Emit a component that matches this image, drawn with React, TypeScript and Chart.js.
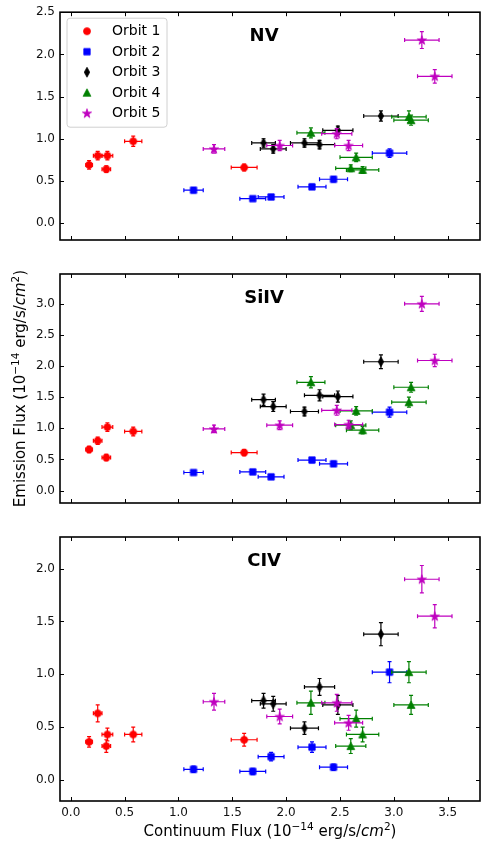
import React, { useEffect, useRef } from "react";
import { Chart, registerables } from "chart.js";
Chart.register(...registerables);

const FONT = "'DejaVu Sans', 'Liberation Sans', sans-serif";

// ---------- data ----------
const ORBIT_LABELS = ["Orbit 1", "Orbit 2", "Orbit 3", "Orbit 4", "Orbit 5"];
const ORBIT_COLORS = ["#ff0000", "#0000ff", "#000000", "#008000", "#bf00bf"];
const ORBIT_MARKERS = ["circle", "square", "thin_diamond", "triangle", "star"];

const X_TICKS = [0, 0.5, 1, 1.5, 2, 2.5, 3, 3.5];
const NV_TICKS = [0, 0.5, 1, 1.5, 2, 2.5];
const SIIV_TICKS = [0, 0.5, 1, 1.5, 2, 2.5, 3];
const CIV_TICKS = [0, 0.5, 1, 1.5, 2];
const PANEL_TITLES = ["NV", "SiIV", "CIV"];

// Continuum flux (x) and its error, per orbit
const CONT_ORBIT1 = [0.17, 0.25, 0.34, 0.33, 0.58, 1.61];
const CONT_ORBIT2 = [1.14, 1.69, 1.86, 2.24, 2.44, 2.96];
const CONT_ORBIT3 = [1.79, 1.88, 2.17, 2.31, 2.48, 2.88];
const CONT_ORBIT4 = [2.23, 2.65, 2.6, 2.71, 3.14, 3.16];
const CONT_ORBIT5 = [1.33, 1.94, 2.47, 2.58, 3.26, 3.38];
const CONT_ERR_ORBIT1 = [0.03, 0.04, 0.05, 0.04, 0.08, 0.12];
const CONT_ERR_ORBIT2 = [0.09, 0.12, 0.12, 0.13, 0.13, 0.16];
const CONT_ERR_ORBIT3 = [0.11, 0.12, 0.13, 0.14, 0.14, 0.16];
const CONT_ERR_ORBIT4 = [0.13, 0.15, 0.14, 0.15, 0.16, 0.16];
const CONT_ERR_ORBIT5 = [0.1, 0.12, 0.14, 0.13, 0.16, 0.16];

// NV emission flux
const NV_ORBIT1 = [0.69, 0.8, 0.8, 0.64, 0.97, 0.66];
const NV_ORBIT2 = [0.39, 0.29, 0.31, 0.43, 0.52, 0.83];
const NV_ORBIT3 = [0.95, 0.88, 0.95, 0.93, 1.1, 1.27];
const NV_ORBIT4 = [1.07, 0.78, 0.65, 0.63, 1.26, 1.22];
const NV_ORBIT5 = [0.88, 0.92, 1.06, 0.92, 2.17, 1.74];
const NV_ERR_ORBIT1 = [0.05, 0.05, 0.05, 0.04, 0.06, 0.04];
const NV_ERR_ORBIT2 = [0.03, 0.02, 0.02, 0.03, 0.03, 0.05];
const NV_ERR_ORBIT3 = [0.05, 0.05, 0.05, 0.05, 0.05, 0.06];
const NV_ERR_ORBIT4 = [0.06, 0.05, 0.04, 0.04, 0.07, 0.06];
const NV_ERR_ORBIT5 = [0.05, 0.06, 0.06, 0.06, 0.1, 0.08];

// SiIV emission flux
const SIIV_ORBIT1 = [0.66, 0.8, 1.02, 0.53, 0.95, 0.61];
const SIIV_ORBIT2 = [0.29, 0.3, 0.22, 0.49, 0.43, 1.26];
const SIIV_ORBIT3 = [1.46, 1.35, 1.27, 1.53, 1.51, 2.07];
const SIIV_ORBIT4 = [1.74, 1.28, 1.05, 0.97, 1.42, 1.66];
const SIIV_ORBIT5 = [0.99, 1.05, 1.29, 1.06, 3.0, 2.09];
const SIIV_ERR_ORBIT1 = [0.05, 0.06, 0.07, 0.05, 0.07, 0.05];
const SIIV_ERR_ORBIT2 = [0.03, 0.03, 0.03, 0.04, 0.04, 0.08];
const SIIV_ERR_ORBIT3 = [0.09, 0.08, 0.07, 0.09, 0.09, 0.11];
const SIIV_ERR_ORBIT4 = [0.09, 0.07, 0.07, 0.06, 0.08, 0.08];
const SIIV_ERR_ORBIT5 = [0.06, 0.07, 0.08, 0.07, 0.12, 0.1];

// CIV emission flux
const CIV_ORBIT1 = [0.36, 0.63, 0.43, 0.32, 0.43, 0.38];
const CIV_ORBIT2 = [0.1, 0.08, 0.22, 0.31, 0.12, 1.02];
const CIV_ORBIT3 = [0.75, 0.72, 0.49, 0.88, 0.71, 1.38];
const CIV_ORBIT4 = [0.73, 0.58, 0.32, 0.43, 1.02, 0.71];
const CIV_ORBIT5 = [0.74, 0.6, 0.73, 0.54, 1.9, 1.55];
const CIV_ERR_ORBIT1 = [0.05, 0.08, 0.06, 0.06, 0.07, 0.06];
const CIV_ERR_ORBIT2 = [0.03, 0.03, 0.04, 0.05, 0.03, 0.1];
const CIV_ERR_ORBIT3 = [0.07, 0.07, 0.06, 0.08, 0.09, 0.11];
const CIV_ERR_ORBIT4 = [0.11, 0.08, 0.07, 0.07, 0.1, 0.09];
const CIV_ERR_ORBIT5 = [0.08, 0.07, 0.08, 0.07, 0.13, 0.11];

// axis ranges
const X_MIN = -0.1;
const X_MAX = 3.8;
const Y_MIN = [-0.2, -0.2, -0.2];
const Y_MAX = [2.5, 3.48, 2.3];

type Run = { t: string; italic?: boolean; sup?: boolean };
const X_LABEL: Run[] = [
  { t: "Continuum Flux (10" },
  { t: "\u221214", sup: true },
  { t: " erg/s/" },
  { t: "cm", italic: true },
  { t: "2", sup: true },
  { t: ")" },
];
const Y_LABEL: Run[] = [
  { t: "Emission Flux (10" },
  { t: "\u221214", sup: true },
  { t: " erg/s/" },
  { t: "cm", italic: true },
  { t: "2", sup: true },
  { t: ")" },
];

const CONT = [CONT_ORBIT1, CONT_ORBIT2, CONT_ORBIT3, CONT_ORBIT4, CONT_ORBIT5];
const CONT_ERR = [CONT_ERR_ORBIT1, CONT_ERR_ORBIT2, CONT_ERR_ORBIT3, CONT_ERR_ORBIT4, CONT_ERR_ORBIT5];
const PANEL_TICKS = [NV_TICKS, SIIV_TICKS, CIV_TICKS];
const PANEL_VALUES = [
  [NV_ORBIT1, NV_ORBIT2, NV_ORBIT3, NV_ORBIT4, NV_ORBIT5],
  [SIIV_ORBIT1, SIIV_ORBIT2, SIIV_ORBIT3, SIIV_ORBIT4, SIIV_ORBIT5],
  [CIV_ORBIT1, CIV_ORBIT2, CIV_ORBIT3, CIV_ORBIT4, CIV_ORBIT5],
];
const PANEL_ERRS = [
  [NV_ERR_ORBIT1, NV_ERR_ORBIT2, NV_ERR_ORBIT3, NV_ERR_ORBIT4, NV_ERR_ORBIT5],
  [SIIV_ERR_ORBIT1, SIIV_ERR_ORBIT2, SIIV_ERR_ORBIT3, SIIV_ERR_ORBIT4, SIIV_ERR_ORBIT5],
  [CIV_ERR_ORBIT1, CIV_ERR_ORBIT2, CIV_ERR_ORBIT3, CIV_ERR_ORBIT4, CIV_ERR_ORBIT5],
];

// ---------- layout (page pixels) ----------
const W = 485;
const H = 842;
const PANEL_TOP = [11, 274, 537];
const PANEL_BOTTOM = [274, 537, 801];
const AXIS_LEFT_W = 60;
const X_AXIS_H = 34;

// ---------- markers ----------
function makeMarker(kind: string, color: string): HTMLCanvasElement {
  const c = document.createElement("canvas");
  c.width = 16;
  c.height = 16;
  const ctx = c.getContext("2d")!;
  ctx.translate(8, 8);
  ctx.fillStyle = color;
  ctx.strokeStyle = color;
  ctx.lineWidth = 0.8;
  ctx.beginPath();
  if (kind === "circle") {
    ctx.arc(0, 0, 3.5, 0, Math.PI * 2);
  } else if (kind === "square") {
    ctx.rect(-3.2, -3.2, 6.4, 6.4);
  } else if (kind === "thin_diamond") {
    ctx.moveTo(0, -4.9);
    ctx.lineTo(2.7, 0);
    ctx.lineTo(0, 4.9);
    ctx.lineTo(-2.7, 0);
    ctx.closePath();
  } else if (kind === "triangle") {
    ctx.moveTo(0, -3.9);
    ctx.lineTo(3.9, 3.5);
    ctx.lineTo(-3.9, 3.5);
    ctx.closePath();
  } else if (kind === "star") {
    const R = 4.8;
    const r = R * 0.382;
    for (let k = 0; k < 10; k++) {
      const rad = k % 2 === 0 ? R : r;
      const a = -Math.PI / 2 + (k * Math.PI) / 5;
      const px = Math.cos(a) * rad;
      const py = Math.sin(a) * rad + 0.4;
      if (k === 0) ctx.moveTo(px, py);
      else ctx.lineTo(px, py);
    }
    ctx.closePath();
  }
  ctx.fill();
  ctx.stroke();
  return c;
}

function drawRuns(ctx: CanvasRenderingContext2D, runs: Run[], cx: number, baseline: number, size: number) {
  const fontFor = (r: Run) => {
    const s = r.sup ? size * 0.7 : size;
    return `${r.italic ? "italic " : ""}${s}px ${FONT}`;
  };
  let total = 0;
  const widths = runs.map((r) => {
    ctx.font = fontFor(r);
    const w = ctx.measureText(r.t).width;
    total += w;
    return w;
  });
  let x = cx - total / 2;
  ctx.textAlign = "left";
  ctx.textBaseline = "alphabetic";
  runs.forEach((r, i) => {
    ctx.font = fontFor(r);
    ctx.fillText(r.t, x, r.sup ? baseline - size * 0.38 : baseline);
    x += widths[i];
  });
}

// ---------- plugins ----------
const errorBarPlugin = {
  id: "errorBars",
  beforeDatasetDraw(chart: any, args: any) {
    const ds = chart.data.datasets[args.index];
    const xs = chart.scales.x;
    const ys = chart.scales.y;
    const ctx = chart.ctx;
    const cap = 2;
    ctx.save();
    ctx.beginPath();
    ctx.rect(chart.chartArea.left, chart.chartArea.top, chart.chartArea.right - chart.chartArea.left, chart.chartArea.bottom - chart.chartArea.top);
    ctx.clip();
    ctx.strokeStyle = ds.borderColor;
    ctx.lineWidth = 1.2;
    ds.data.forEach((p: any, k: number) => {
      const ex = ds.errX[k];
      const ey = ds.errY[k];
      const px = xs.getPixelForValue(p.x);
      const py = ys.getPixelForValue(p.y);
      const x0 = xs.getPixelForValue(p.x - ex);
      const x1 = xs.getPixelForValue(p.x + ex);
      const y0 = ys.getPixelForValue(p.y - ey);
      const y1 = ys.getPixelForValue(p.y + ey);
      ctx.beginPath();
      ctx.moveTo(x0, py);
      ctx.lineTo(x1, py);
      ctx.moveTo(x0, py - cap);
      ctx.lineTo(x0, py + cap);
      ctx.moveTo(x1, py - cap);
      ctx.lineTo(x1, py + cap);
      ctx.moveTo(px, y0);
      ctx.lineTo(px, y1);
      ctx.moveTo(px - cap, y0);
      ctx.lineTo(px + cap, y0);
      ctx.moveTo(px - cap, y1);
      ctx.lineTo(px + cap, y1);
      ctx.stroke();
    });
    ctx.restore();
  },
};

const framePlugin = {
  id: "frame",
  afterDraw(chart: any, _args: any, opts: any) {
    const ctx = chart.ctx;
    const { left, right, top, bottom } = chart.chartArea;
    const xs = chart.scales.x;
    const ys = chart.scales.y;
    const tl = 4;
    ctx.save();
    ctx.strokeStyle = "#000";
    ctx.lineWidth = 1;
    ctx.beginPath();
    X_TICKS.forEach((v) => {
      const px = Math.round(xs.getPixelForValue(v)) + 0.5;
      ctx.moveTo(px, bottom);
      ctx.lineTo(px, bottom - tl);
      ctx.moveTo(px, top);
      ctx.lineTo(px, top + tl);
    });
    ys.ticks.forEach((t: any) => {
      const py = Math.round(ys.getPixelForValue(t.value)) + 0.5;
      ctx.moveTo(left, py);
      ctx.lineTo(left + tl, py);
      ctx.moveTo(right, py);
      ctx.lineTo(right - tl, py);
    });
    ctx.stroke();
    ctx.lineWidth = 1.6;
    ctx.strokeRect(left, top, right - left, bottom - top);

    // panel title
    ctx.fillStyle = "#000";
    ctx.font = `bold 18px ${FONT}`;
    ctx.textAlign = "center";
    ctx.textBaseline = "middle";
    ctx.fillText(opts.title, left + (right - left) * 0.486, top + 24);

    // legend
    if (opts.legend) {
      const bx = left + 7;
      const by = top + 6;
      const bw = 100;
      const bh = 109;
      const r = 3;
      ctx.beginPath();
      ctx.moveTo(bx + r, by);
      ctx.lineTo(bx + bw - r, by);
      ctx.arcTo(bx + bw, by, bx + bw, by + r, r);
      ctx.lineTo(bx + bw, by + bh - r);
      ctx.arcTo(bx + bw, by + bh, bx + bw - r, by + bh, r);
      ctx.lineTo(bx + r, by + bh);
      ctx.arcTo(bx, by + bh, bx, by + bh - r, r);
      ctx.lineTo(bx, by + r);
      ctx.arcTo(bx, by, bx + r, by, r);
      ctx.closePath();
      ctx.fillStyle = "rgba(255,255,255,0.8)";
      ctx.fill();
      ctx.strokeStyle = "#d0d0d0";
      ctx.lineWidth = 1;
      ctx.stroke();
      chart.data.datasets.forEach((ds: any, i: number) => {
        const cy = by + 13 + i * 20.5;
        const img = ds.pointStyle as HTMLCanvasElement;
        ctx.drawImage(img, bx + 20 - img.width / 2, cy - img.height / 2);
        ctx.fillStyle = "#000";
        ctx.font = `14px ${FONT}`;
        ctx.textAlign = "left";
        ctx.textBaseline = "middle";
        ctx.fillText(ds.label, bx + 45, cy + 0.5);
      });
    }

    ctx.fillStyle = "#000";
    if (opts.yLabel) {
      ctx.save();
      ctx.translate(25, (top + bottom) / 2);
      ctx.rotate(-Math.PI / 2);
      drawRuns(ctx, Y_LABEL, 0, 0, 15);
      ctx.restore();
    }
    if (opts.xLabel) {
      drawRuns(ctx, X_LABEL, (left + right) / 2, bottom + 35, 15);
    }
    ctx.restore();
  },
};

function buildConfig(p: number, markers: HTMLCanvasElement[]): any {
  const datasets = ORBIT_LABELS.map((label, i) => ({
    label,
    data: CONT[i].map((x, k) => ({ x, y: PANEL_VALUES[p][i][k] })),
    errX: CONT_ERR[i],
    errY: PANEL_ERRS[p][i],
    pointStyle: markers[i],
    pointRadius: 4,
    pointHoverRadius: 4,
    backgroundColor: ORBIT_COLORS[i],
    borderColor: ORBIT_COLORS[i],
    showLine: false,
    order: ORBIT_LABELS.length - i,
  }));
  const isBottom = p === 2;
  return {
    type: "scatter",
    data: { datasets },
    options: {
      responsive: false,
      animation: false,
      devicePixelRatio: 1,
      events: [],
      layout: {
        padding: {
          left: 0,
          right: W - 484,
          top: PANEL_TOP[p],
          bottom: isBottom ? H - PANEL_BOTTOM[p] - X_AXIS_H : H - PANEL_BOTTOM[p],
        },
      },
      plugins: {
        legend: { display: false },
        tooltip: { enabled: false },
        frame: { title: PANEL_TITLES[p], legend: p === 0, yLabel: p === 1, xLabel: isBottom },
      },
      scales: {
        x: {
          type: "linear",
          position: "bottom",
          min: X_MIN,
          max: X_MAX,
          display: isBottom,
          grid: { display: false, drawTicks: false },
          border: { display: false },
          afterBuildTicks: (s: any) => {
            s.ticks = X_TICKS.map((v) => ({ value: v }));
          },
          afterFit: (s: any) => {
            s.height = X_AXIS_H;
          },
          ticks: {
            autoSkip: false,
            maxRotation: 0,
            padding: 5,
            color: "#111",
            font: { family: FONT, size: 12 },
            callback: (v: any) => Number(v).toFixed(1),
          },
        },
        y: {
          type: "linear",
          position: "left",
          min: Y_MIN[p],
          max: Y_MAX[p],
          grid: { display: false, drawTicks: false },
          border: { display: false },
          afterBuildTicks: (s: any) => {
            s.ticks = PANEL_TICKS[p].map((v) => ({ value: v }));
          },
          afterFit: (s: any) => {
            s.width = AXIS_LEFT_W;
          },
          ticks: {
            autoSkip: false,
            padding: 5,
            color: "#111",
            font: { family: FONT, size: 12 },
            callback: (v: any) => Number(v).toFixed(1),
          },
        },
      },
    },
    plugins: [errorBarPlugin, framePlugin],
  };
}

export default function App() {
  const refs = [useRef<HTMLCanvasElement>(null), useRef<HTMLCanvasElement>(null), useRef<HTMLCanvasElement>(null)];
  useEffect(() => {
    const markers = ORBIT_MARKERS.map((m, i) => makeMarker(m, ORBIT_COLORS[i]));
    const charts = refs.map((r, p) => new Chart(r.current!, buildConfig(p, markers)));
    return () => charts.forEach((c) => c.destroy());
  }, []);
  return (
    <div style={{ position: "absolute", left: 0, top: 0, width: W, height: H, background: "#fff" }}>
      {refs.map((r, i) => (
        <canvas
          key={i}
          ref={r}
          width={W}
          height={H}
          style={{ position: "absolute", left: 0, top: 0, width: W, height: H }}
        />
      ))}
    </div>
  );
}
